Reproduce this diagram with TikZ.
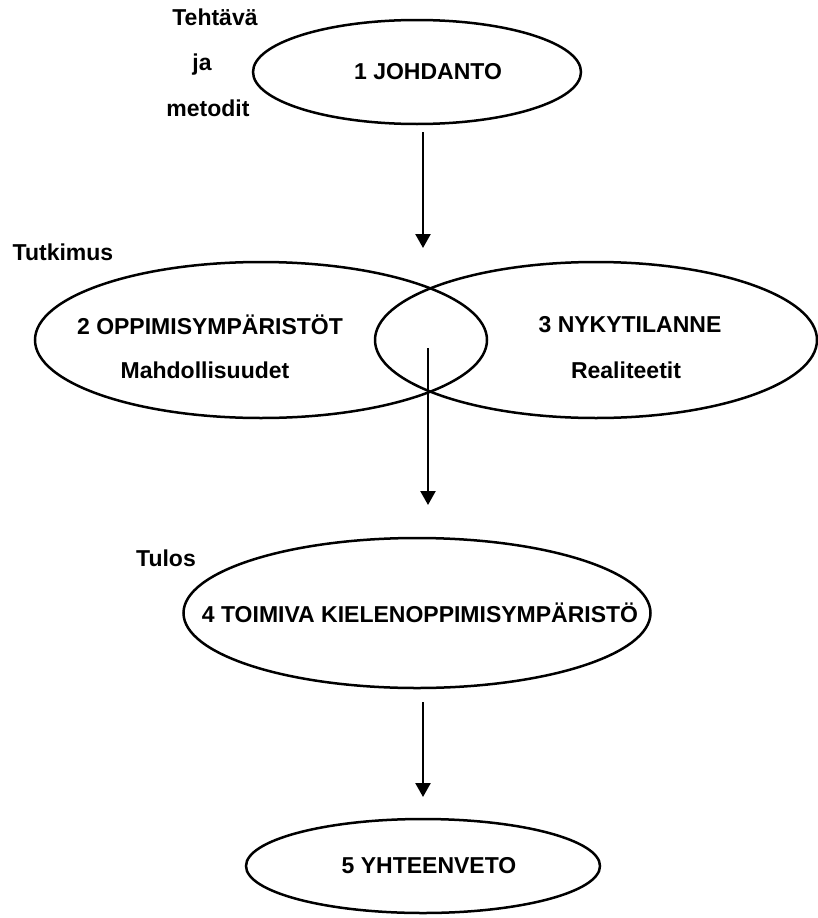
\documentclass[tikz,border=0pt]{standalone}
\usepackage{fontspec}
\setmainfont{Liberation Sans}
\usetikzlibrary{arrows.meta,shapes.geometric}

\begin{document}
\begin{tikzpicture}[x=1pt, y=-1pt,
    oval/.style={draw, ellipse, line width=2.5pt, inner sep=0pt},
    txt/.style={font=\bfseries\fontsize{23}{25}\selectfont, inner sep=0pt},
    arr/.style={-{Triangle[width=15pt,length=14pt]}, line width=2.4pt}]
  \useasboundingbox (0,0) rectangle (817,918);
  % the five chapters
  \node[oval, minimum width=328pt, minimum height=104pt] (johdanto) at (417,72) {};
  \node[oval, minimum width=452pt, minimum height=156pt] (ymparisto) at (261,340) {};
  \node[oval, minimum width=442pt, minimum height=156pt] (nykytila) at (596,340) {};
  \node[oval, minimum width=467pt, minimum height=150pt] (toimiva) at (417,613) {};
  \node[oval, minimum width=354pt, minimum height=94pt] (yhteenveto) at (423,866) {};
  % texts in the ovals
  \node[txt] (johtitle) at (428,72) {1 JOHDANTO};
  \node[txt] (ymptitle) at (210,325) {2 OPPIMISYMPÄRISTÖT};
  \node[txt] (mahd) at (205,370) {Mahdollisuudet};
  \node[txt] (nyktitle) at (630,325) {3 NYKYTILANNE};
  \node[txt] (real) at (626,370) {Realiteetit};
  \node[txt] (toimtitle) at (420,613) {4 TOIMIVA KIELENOPPIMISYMPÄRISTÖ};
  \node[txt] (yhttitle) at (429,866) {5 YHTEENVETO};
  % side labels
  \node[txt] (tehtava) at (215,17) {Tehtävä};
  \node[txt] (ja) at (202,65) {ja};
  \node[txt] (metodit) at (208,108) {metodit};
  \node[txt] (tutkimus) at (63,252) {Tutkimus};
  \node[txt] (tulos) at (166,558) {Tulos};
  % arrows
  \coordinate (a1) at (423,132);
  \coordinate (b1) at (423,248);
  \coordinate (a2) at (428,348);
  \coordinate (b2) at (428,505);
  \coordinate (a3) at (423,702);
  \coordinate (b3) at (423,797);
  \draw[arr] (a1) -- (b1);
  \draw[arr] (a2) -- (b2);
  \draw[arr] (a3) -- (b3);
\end{tikzpicture}
\end{document}
